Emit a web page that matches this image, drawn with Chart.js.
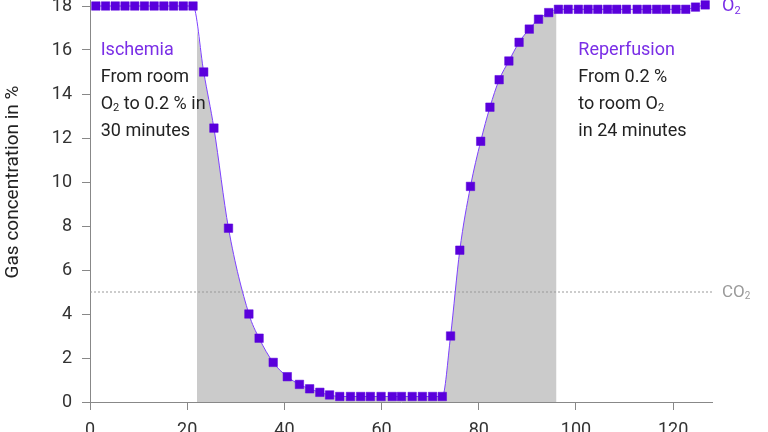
<!DOCTYPE html>
<html>
<head>
<meta charset="utf-8">
<script src="https://cdn.jsdelivr.net/npm/chart.js@4/dist/chart.umd.min.js"></script>
<style>
  html, body { margin: 0; padding: 0; background: #fff; overflow: hidden; width: 768px; height: 432px; }
  #wrap { position: absolute; left: 0; top: -60px; width: 768px; height: 502px; }
</style>
</head>
<body>
<div id="wrap"><canvas id="gasChart" width="768" height="502"></canvas></div>
<script>
// time in minutes and O2 concentration in %
const timeMin = [1.2, 3.2, 5.2, 7.2, 9.2, 11.2, 13.2, 15.2, 17.2, 19.2, 21.2,
  23.4, 25.5, 28.5, 32.7, 34.8, 37.7, 40.6, 43.1, 45.2, 47.3, 49.3,
  51.4, 53.6, 55.7, 57.7, 59.9, 62.2, 64.1, 66.3, 68.4, 70.5, 72.5,
  74.2, 76.1, 78.3, 80.4, 82.3, 84.2, 86.2, 88.3, 90.4, 92.3, 94.4,
  96.4, 98.4, 100.5, 102.5, 104.5, 106.5, 108.4, 110.4, 112.6, 114.6, 116.6, 118.5, 120.6, 122.6, 124.6, 126.6];
const o2Percent = [18, 18, 18, 18, 18, 18, 18, 18, 18, 18, 18,
  15.0, 12.45, 7.9, 4.0, 2.9, 1.8, 1.15, 0.8, 0.6, 0.44, 0.32,
  0.25, 0.25, 0.25, 0.25, 0.25, 0.25, 0.25, 0.25, 0.25, 0.25, 0.25,
  3.0, 6.9, 9.8, 11.85, 13.4, 14.65, 15.5, 16.35, 16.95, 17.4, 17.7,
  17.85, 17.85, 17.85, 17.85, 17.85, 17.85, 17.85, 17.85, 17.85, 17.85, 17.85, 17.85, 17.85, 17.85, 17.95, 18.05];

// CO2 level (dashed line)
const co2Time = [0, 128];
const co2Percent = [5, 5];

// shaded window (ischemia + reperfusion), edges
const shadeStart = [22, 17.0];
const shadeEnd = [96, 17.8];

const xTicks = [0, 20, 40, 60, 80, 100, 120];
const yTicks = [0, 2, 4, 6, 8, 10, 12, 14, 16, 18, 20];

const purple = '#7a2ee6';
const fontName = 'Roboto';

const o2Data = timeMin.map((t, i) => ({ x: t, y: o2Percent[i] }));
const co2Data = co2Time.map((t, i) => ({ x: t, y: co2Percent[i] }));
const shadeData = [{ x: shadeStart[0], y: shadeStart[1] }]
  .concat(o2Data.filter(p => p.x > shadeStart[0] && p.x < shadeEnd[0]))
  .concat([{ x: shadeEnd[0], y: shadeEnd[1] }]);

// draws text where parts can be subscript: [text, isSub]
function drawParts(ctx, parts, x, y, size, color) {
  ctx.fillStyle = color;
  ctx.textBaseline = 'middle';
  ctx.textAlign = 'left';
  parts.forEach(p => {
    const sub = p[1];
    const s = sub ? Math.round(size * 0.6) : size;
    ctx.font = s + 'px ' + fontName;
    ctx.fillText(p[0], x, sub ? y + size * 0.22 : y);
    x += ctx.measureText(p[0]).width;
  });
}

const notes = {
  id: 'notes',
  afterDraw(chart) {
    const ctx = chart.ctx;
    const xs = chart.scales.x, ys = chart.scales.y;
    const lh = 27;
    ctx.save();
    // left block
    let lx = xs.getPixelForValue(2.2), ly = ys.getPixelForValue(16);
    drawParts(ctx, [['Ischemia']], lx, ly, 18, purple);
    drawParts(ctx, [['From room']], lx, ly + lh, 18, '#222');
    drawParts(ctx, [['O'], ['2', true], [' to 0.2 % in']], lx, ly + lh * 2, 18, '#222');
    drawParts(ctx, [['30 minutes']], lx, ly + lh * 3, 18, '#222');
    // right block
    let rx = xs.getPixelForValue(100.5);
    drawParts(ctx, [['Reperfusion']], rx, ly, 18, purple);
    drawParts(ctx, [['From 0.2 %']], rx, ly + lh, 18, '#222');
    drawParts(ctx, [['to room O'], ['2', true]], rx, ly + lh * 2, 18, '#222');
    drawParts(ctx, [['in 24 minutes']], rx, ly + lh * 3, 18, '#222');
    // series labels
    const ex = chart.chartArea.right + 10;
    drawParts(ctx, [['O'], ['2', true]], ex, ys.getPixelForValue(o2Percent[o2Percent.length - 1]) + 2, 18, purple);
    drawParts(ctx, [['CO'], ['2', true]], ex, ys.getPixelForValue(co2Percent[1]) + 1, 17, '#9a9a9a');
    ctx.restore();
  }
};

new Chart(document.getElementById('gasChart'), {
  type: 'line',
  data: {
    datasets: [{
      label: 'O2',
      data: o2Data,
      borderColor: '#7d40ff',
      borderWidth: 1,
      pointStyle: 'rect',
      pointRadius: 6,
      pointBackgroundColor: '#5a00dc',
      pointBorderColor: '#5a00dc',
      pointBorderWidth: 0.5,
      cubicInterpolationMode: 'monotone',
      fill: false,
      order: 0
    }, {
      label: 'CO2',
      data: co2Data,
      borderColor: '#9a9a9a',
      borderWidth: 1,
      borderDash: [2, 2],
      pointRadius: 0,
      fill: false,
      order: 1
    }, {
      label: 'shade',
      data: shadeData,
      borderWidth: 0,
      backgroundColor: '#cbcbcb',
      pointRadius: 0,
      cubicInterpolationMode: 'monotone',
      fill: 'origin',
      order: 2
    }]
  },
  options: {
    responsive: false,
    animation: false,
    devicePixelRatio: 1,
    layout: { padding: { top: 22, left: 0, right: 56, bottom: 0 } },
    plugins: { legend: { display: false }, tooltip: { enabled: false } },
    scales: {
      x: {
        type: 'linear',
        min: 0,
        max: 128,
        afterFit: s => { s.height = 40; },
        afterBuildTicks: s => { s.ticks = xTicks.map(v => ({ value: v })); },
        ticks: { color: '#333', padding: 10, font: { family: fontName, size: 18 } },
        grid: { drawOnChartArea: false, tickLength: 8, color: '#888' },
        border: { color: '#888', width: 1 }
      },
      y: {
        min: 0,
        max: 20,
        afterFit: s => { s.width = 90; },
        afterBuildTicks: s => { s.ticks = yTicks.map(v => ({ value: v })); },
        ticks: { color: '#333', padding: 10, font: { family: fontName, size: 18 } },
        grid: { drawOnChartArea: false, tickLength: 8, color: '#888' },
        border: { color: '#888', width: 1 },
        title: {
          display: true,
          text: 'Gas concentration in %',
          color: '#222',
          padding: { top: 2, bottom: 0 },
          font: { family: fontName, size: 19 }
        }
      }
    }
  },
  plugins: [notes]
});
</script>
</body>
</html>
